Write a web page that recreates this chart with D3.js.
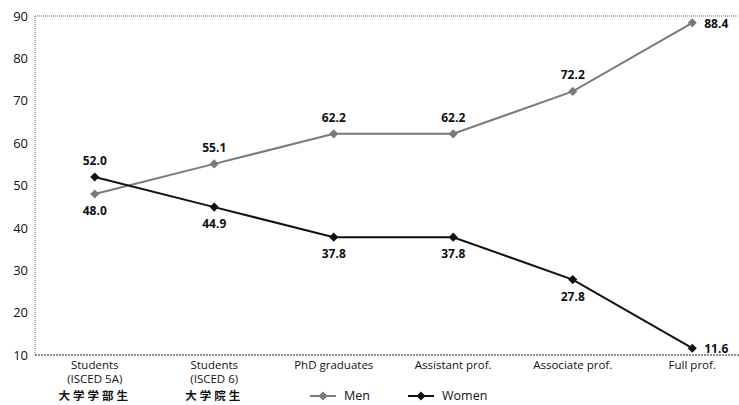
<!DOCTYPE html>
<html>
<head>
<meta charset="utf-8">
<script src="https://cdn.jsdelivr.net/npm/d3@7"></script>
<style>
  body { margin: 0; background: #fff; }
  text { font-family: "Open Sans", sans-serif; fill: #111; }
  .axis path, .axis line { display: none; }
</style>
</head>
<body>
<svg width="739" height="405"></svg>
<script>
let categories = ['Students|(ISCED 5A)', 'Students|(ISCED 6)', 'PhD graduates', 'Assistant prof.', 'Associate prof.', 'Full prof.']
let jpLabels = ['大学学部生', '大学院生', '', '', '', '']
let men = [48.0, 55.1, 62.2, 62.2, 72.2, 88.4]
let women = [52.0, 44.9, 37.8, 37.8, 27.8, 11.6]
let yTicks = [10, 20, 30, 40, 50, 60, 70, 80, 90]

let svg = d3.select('svg')
    margin = {top: 16, left: 35, right: -13, bottom: 50}
    width = svg.attr('width') - margin.left - margin.right
    height = svg.attr('height') - margin.top - margin.bottom

let xScale = d3.scalePoint().domain(categories).range([margin.left, margin.left + width]).padding(0.5),
    yScale = d3.scaleLinear().domain([10, 90]).range([height + margin.top, margin.top])

// dotted frame: top, left, bottom
let frame = svg.append('g').attr('stroke', '#666').attr('stroke-width', 1).attr('stroke-dasharray', '1,1')
frame.append('line').attr('x1', margin.left).attr('x2', 739).attr('y1', yScale(90)).attr('y2', yScale(90))
frame.append('line').attr('x1', margin.left).attr('x2', margin.left).attr('y1', yScale(90)).attr('y2', yScale(10))
frame.append('line').attr('x1', margin.left).attr('x2', 739).attr('y1', yScale(10)).attr('y2', yScale(10))
    .attr('stroke', '#222').attr('stroke-dasharray', '2,1')

// y axis
svg.append('g')
    .attr('class', 'axis')
    .attr('transform', 'translate(' + margin.left + ', 0)')
    .call(d3.axisLeft(yScale).tickValues(yTicks).tickSize(0).tickPadding(7))
    .selectAll('text').style('font-size', '13px').style('font-family', '"Open Sans", sans-serif')

// x axis labels
svg.append('g')
    .attr('class', 'axis')
    .attr('transform', 'translate(0, ' + (height + margin.top) + ')')
    .call(d3.axisBottom(xScale).tickSize(0).tickFormat(''))
let lab = svg.append('g')
categories.forEach((c, i) => {
    c.split('|').forEach((p, j) => {
        lab.append('text')
            .attr('text-anchor', 'middle')
            .attr('x', xScale(c))
            .attr('y', yScale(10) + 14 + j * 14)
            .style('font-size', '11.5px')
            .text(p)
    })
    if (jpLabels[i]) {
        lab.append('text')
            .attr('text-anchor', 'middle')
            .attr('x', xScale(c))
            .attr('y', yScale(10) + 45)
            .style('font-family', '"Noto Sans CJK JP", sans-serif')
            .style('font-weight', 'bold')
            .style('font-size', '11.5px')
            .style('letter-spacing', '3px')
            .text(jpLabels[i])
    }
})

let line = d3.line().x((d, i) => xScale(categories[i])).y(d => yScale(d))
let diamond = d3.symbol().type(d3.symbolSquare).size(42)

function drawSeries(values, color, sw) {
    svg.append('path')
        .datum(values)
        .attr('fill', 'none')
        .attr('stroke', color)
        .attr('stroke-width', sw)
        .attr('d', line)
    svg.selectAll(null)
        .data(values)
        .enter()
        .append('path')
        .attr('d', diamond)
        .attr('fill', color)
        .attr('transform', (d, i) => 'translate(' + xScale(categories[i]) + ',' + yScale(d) + ') rotate(45)')
}
drawSeries(men, '#7a7a7a', 2)
drawSeries(women, '#111', 2)

// value labels
function drawLabels(values, other) {
    svg.append('g').selectAll('text')
        .data(values)
        .enter()
        .append('text')
        .style('font-size', '12px')
        .style('font-weight', 'bold')
        .attr('text-anchor', (d, i) => i == values.length - 1 ? 'start' : 'middle')
        .attr('x', (d, i) => i == values.length - 1 ? xScale(categories[i]) + 12 : xScale(categories[i]))
        .attr('y', (d, i) => {
            if (i == values.length - 1) return yScale(d) + 5
            return d > other[i] ? yScale(d) - 12 : yScale(d) + 21
        })
        .text(d => d.toFixed(1))
}
drawLabels(men, women)
drawLabels(women, men)

// legend
let legend = svg.append('g').attr('transform', 'translate(0, 396)')
let items = [{name: 'Men', color: '#7a7a7a', x: 310}, {name: 'Women', color: '#111', x: 408}]
items.forEach(d => {
    legend.append('line').attr('x1', d.x).attr('x2', d.x + 26).attr('y1', 0).attr('y2', 0)
        .attr('stroke', d.color).attr('stroke-width', 2)
    legend.append('path').attr('d', diamond).attr('fill', d.color)
        .attr('transform', 'translate(' + (d.x + 13) + ',0) rotate(45)')
    legend.append('text').attr('x', d.x + 34).attr('y', 4).style('font-size', '12.5px').text(d.name)
})
</script>
</body>
</html>
